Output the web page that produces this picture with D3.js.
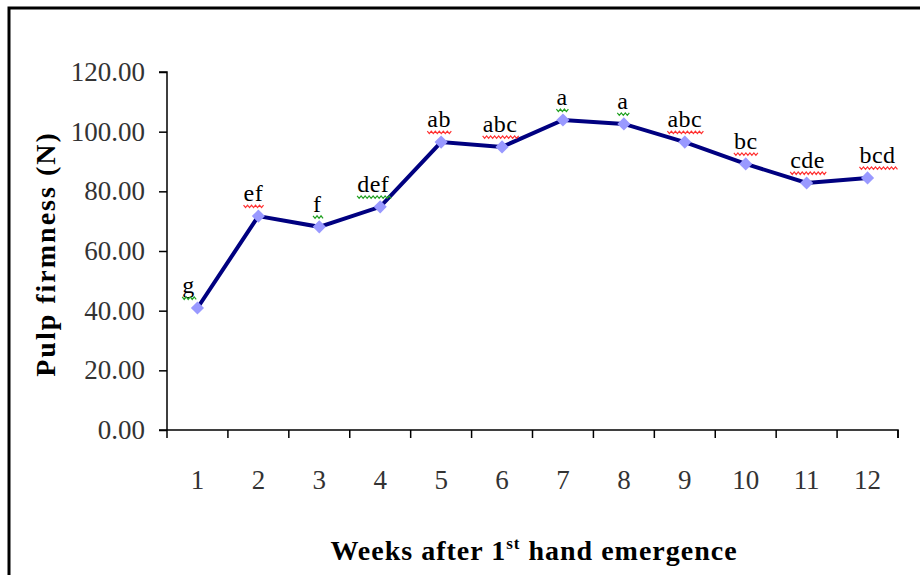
<!DOCTYPE html>
<html>
<head>
<meta charset="utf-8">
<script src="https://cdn.jsdelivr.net/npm/d3@7"></script>
<style>
  body { margin: 0; background: #fff; }
  svg { display: block; font-family: "Liberation Serif", "DejaVu Serif", serif; }
</style>
</head>
<body>
<svg></svg>
<script>
// data
const weeks = ["1", "2", "3", "4", "5", "6", "7", "8", "9", "10", "11", "12"];
const firmness = [40.9, 71.7, 68.1, 74.8, 96.5, 94.9, 103.9, 102.6, 96.5, 89.2, 82.8, 84.5];
const letters = ["g", "ef", "f", "def", "ab", "abc", "a", "a", "abc", "bc", "cde", "bcd"];
// colour of the spell-check squiggle under each letter group
const squiggle = ["green", "red", "green", "green", "red", "red", "green", "green", "red", "red", "red", "red"];
const yTicks = [0, 20, 40, 60, 80, 100, 120];

const svgWidth = 920;
const svgHeight = 575;

// small horizontal nudges of the letter labels, as in the original
const labelNudge = [-9, -5, -2, -7, -2, -2, -1, -1, 0, 0, 1, 10];

let svg = d3.select("svg")
    .attr("width", svgWidth)
    .attr("height", svgHeight);

// frame (only top and left edges show)
svg.append("path")
    .attr("d", `M9,${svgHeight} L9,8 L${svgWidth},8`)
    .attr("fill", "none")
    .attr("stroke", "#000")
    .attr("stroke-width", 3);

const plotLeft = 167, plotRight = 898, plotTop = 72, plotBottom = 430;

let xScale = d3.scaleBand().domain(weeks).range([plotLeft, plotRight]);
let yScale = d3.scaleLinear().domain([0, 120]).range([plotBottom, plotTop]);

//axis
let yAxis = d3.axisLeft(yScale).tickValues(yTicks).tickFormat(d3.format(".2f")).tickSize(8).tickPadding(14);
let gy = svg.append("g").attr("transform", `translate(${plotLeft},0)`).call(yAxis);
gy.select(".domain").attr("stroke-width", 1.5).attr("d", `M-8,${plotTop}H0V${plotBottom}`);
gy.selectAll(".tick line").attr("stroke-width", 1.5);
gy.selectAll("text")
    .attr("font-family", "Liberation Serif, serif")
    .attr("font-size", 27)
    .attr("fill", "#333");

let xAxis = d3.axisBottom(xScale).tickSize(0).tickPadding(40);
let gx = svg.append("g").attr("transform", `translate(0,${plotBottom})`).call(xAxis);
gx.select(".domain").attr("stroke-width", 1.5).attr("d", `M${plotLeft - 8},0H${plotRight}V8`);
gx.selectAll("text")
    .attr("font-family", "Liberation Serif, serif")
    .attr("font-size", 27)
    .attr("fill", "#333");

// tick marks between the categories
const bounds = weeks.map(w => xScale(w)).concat([plotRight]);
svg.append("g").selectAll("line")
    .data(bounds)
    .enter()
    .append("line")
    .attr("x1", d => d).attr("x2", d => d)
    .attr("y1", plotBottom).attr("y2", plotBottom + 8)
    .attr("stroke", "#000")
    .attr("stroke-width", 1.5);

const cx = (i) => xScale(weeks[i]) + xScale.bandwidth() / 2;

// line
let line = d3.line()
    .x((d, i) => cx(i))
    .y(d => yScale(d));

svg.append("path")
    .datum(firmness)
    .attr("d", line)
    .attr("fill", "none")
    .attr("stroke", "#000080")
    .attr("stroke-width", 4);

// diamond markers
svg.selectAll(".marker")
    .data(firmness)
    .enter()
    .append("path")
    .attr("class", "marker")
    .attr("d", d3.symbol().type(d3.symbolDiamond2).size(110))
    .attr("transform", (d, i) => `translate(${cx(i)},${yScale(d)})`)
    .attr("fill", "#9999ff");

// significance letters
let labels = svg.selectAll(".letter")
    .data(letters)
    .enter()
    .append("text")
    .attr("class", "letter")
    .attr("x", (d, i) => cx(i) + labelNudge[i])
    .attr("y", (d, i) => yScale(firmness[i]) - 15)
    .attr("text-anchor", "middle")
    .attr("font-size", 24)
    .attr("letter-spacing", 0.5)
    .attr("fill", "#000")
    .text(d => d);

// wavy underline under each letter group
labels.each(function (d, i) {
    const bb = this.getBBox();
    const y0 = yScale(firmness[i]) - 11;
    let p = `M${bb.x},${y0}`;
    for (let x = bb.x, k = 0; x < bb.x + bb.width; x += 2, k++) {
        p += ` L${x + 2},${y0 + (k % 2 === 0 ? 2.5 : 0)}`;
    }
    svg.append("path")
        .attr("d", p)
        .attr("fill", "none")
        .attr("stroke", squiggle[i] === "red" ? "#ff3030" : "#20a020")
        .attr("stroke-width", 1.2);
});

//axis labels
svg.append("text")
    .attr("transform", "translate(55,254) rotate(-90)")
    .attr("text-anchor", "middle")
    .attr("font-size", 28)
    .attr("font-weight", "bold")
    .attr("letter-spacing", 2)
    .text("Pulp firmness (N)");

let xl = svg.append("text")
    .attr("x", 534)
    .attr("y", 560)
    .attr("text-anchor", "middle")
    .attr("font-size", 28)
    .attr("font-weight", "bold")
    .attr("letter-spacing", 1);
xl.append("tspan").text("Weeks after 1");
xl.append("tspan").attr("dy", -11).attr("font-size", 17).text("st");
xl.append("tspan").attr("dy", 11).text(" hand emergence");
</script>
</body>
</html>
